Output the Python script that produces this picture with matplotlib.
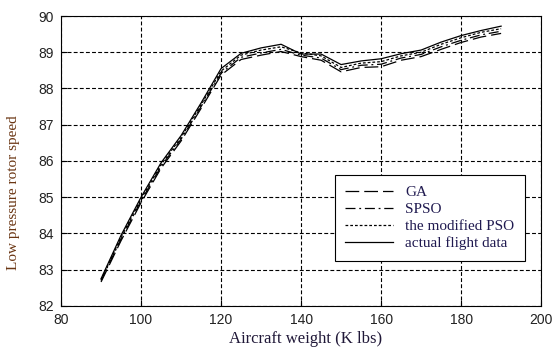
import matplotlib
matplotlib.use('Agg')
import matplotlib.pyplot as plt

weight = [90, 95, 100, 105, 110, 115, 120, 125, 130, 135, 140, 145, 150, 155, 160, 165, 170, 175, 180, 185, 190]
actual = [82.75, 83.95, 85.0, 85.95, 86.7, 87.6, 88.55, 88.97, 89.12, 89.22, 88.95, 88.95, 88.66, 88.76, 88.82, 88.96, 89.06, 89.28, 89.46, 89.6, 89.72]
mpso = [82.72, 83.9, 84.95, 85.9, 86.65, 87.55, 88.48, 88.92, 89.06, 89.15, 88.98, 88.9, 88.58, 88.7, 88.74, 88.9, 89.0, 89.22, 89.4, 89.55, 89.65]
spso = [82.7, 83.85, 84.9, 85.85, 86.6, 87.5, 88.42, 88.86, 88.98, 89.08, 88.92, 88.84, 88.52, 88.64, 88.67, 88.84, 88.94, 89.15, 89.33, 89.48, 89.58]
ga = [82.66, 83.8, 84.85, 85.8, 86.55, 87.45, 88.37, 88.8, 88.92, 89.02, 88.88, 88.78, 88.46, 88.58, 88.6, 88.78, 88.88, 89.08, 89.27, 89.42, 89.52]

xticks = [80, 100, 120, 140, 160, 180, 200]
yticks = [82, 83, 84, 85, 86, 87, 88, 89, 90]

fig = plt.figure(figsize=(5.55, 3.48), dpi=100)
ax = fig.add_axes([0.110, 0.121, 0.865, 0.833])

ax.plot(weight, ga, color='black', lw=0.9, dashes=(11, 4), label='GA')
ax.plot(weight, spso, color='black', lw=0.9, dashes=(8, 3, 1.5, 3), label='SPSO')
ax.plot(weight, mpso, color='black', lw=0.9, dashes=(2.2, 1.6), label='the modified PSO')
ax.plot(weight, actual, color='black', lw=0.9, label='actual flight data')

ax.set_xlim(80, 200)
ax.set_ylim(82, 90)
ax.set_xticks(xticks)
ax.set_yticks(yticks)
ax.grid(True, color='black', lw=0.8, linestyle=(0, (3.5, 2)))
ax.tick_params(direction='in', length=4, width=0.8, labelsize=10, labelcolor='#222222', pad=5)
for lab in ax.get_xticklabels() + ax.get_yticklabels():
    lab.set_family('Liberation Sans')
for s in ax.spines.values():
    s.set_linewidth(0.8)

ax.set_xlabel('Aircraft weight (K lbs)', family='Liberation Serif', fontsize=12, color='#201838')
ax.set_ylabel('Low pressure rotor speed', family='Liberation Serif', fontsize=11, color='#6a3512')
ax.xaxis.set_label_coords(0.509, -0.085)
ax.yaxis.set_label_coords(-0.085, 0.39)

leg = ax.legend(loc='lower right', bbox_to_anchor=(0.966, 0.155), prop={'family': 'Liberation Serif', 'size': 11},
                frameon=True, fancybox=False, edgecolor='black', framealpha=1, handlelength=3.1,
                borderpad=0.7, labelspacing=0.22, handletextpad=0.8, borderaxespad=0)
leg.get_frame().set_linewidth(0.8)
for t in leg.get_texts():
    t.set_color('#201a50')

fig.savefig('out.png', dpi=100)
